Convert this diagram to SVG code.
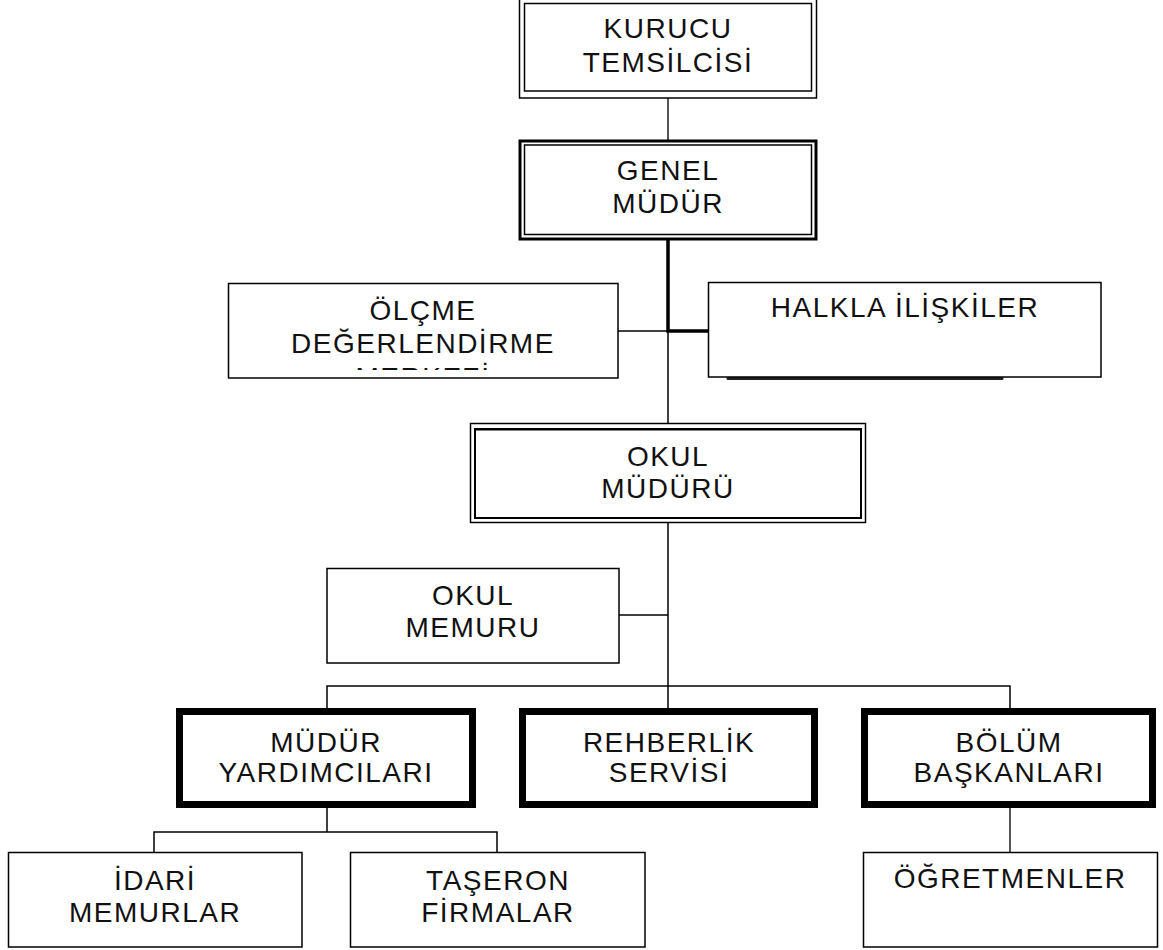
<svg xmlns="http://www.w3.org/2000/svg" width="1163" height="950" viewBox="0 0 1163 950">
<defs>
<style>
.bx{fill:#fff;stroke:#000;stroke-width:1.5}
.thin{fill:none;stroke:#000;stroke-width:1.5}
.thk{fill:#fff;stroke:#000;stroke-width:7}
.c{fill:none;stroke:#000;stroke-width:1.5}
.cg{fill:none;stroke:#555;stroke-width:2}
.ct{fill:none;stroke:#000;stroke-width:3.5}
text{font-family:"Liberation Sans",Arial,sans-serif;font-size:28px;fill:#111;text-anchor:middle;letter-spacing:1.5px}
</style>
<clipPath id="olc"><rect x="228" y="283" width="390" height="87"/></clipPath>
</defs>
<rect width="1163" height="950" fill="#fff"/>
<g id="connectors">
<line class="cg" x1="668" y1="98" x2="668" y2="140"/>
<path class="ct" d="M668,240 V331 H708"/>
<line class="c" x1="618" y1="331" x2="668" y2="331"/>
<line class="c" x1="668" y1="331" x2="668" y2="423"/>
<line class="c" x1="668" y1="523" x2="668" y2="708"/>
<line class="c" x1="619" y1="615" x2="668" y2="615"/>
<path class="c" d="M327,708 V686 H1010 V708"/>
<line class="c" x1="327" y1="808" x2="327" y2="832"/>
<path class="c" d="M154,852 V832 H497 V852"/>
<line class="cg" x1="1010" y1="808" x2="1010" y2="852"/>
</g>
<g id="kurucu">
<rect class="bx" x="519.5" y="-1" width="297" height="99"/>
<rect class="thin" x="524.5" y="3.5" width="287" height="87.5"/>
<text x="668" y="38">KURUCU</text>
<text x="668" y="72">TEMSİLCİSİ</text>
</g>
<g id="genel">
<rect fill="#fff" stroke="#000" stroke-width="3" x="520" y="141" width="296" height="98"/>
<rect class="thin" x="524.5" y="145" width="287" height="89.5"/>
<text x="668" y="180">GENEL</text>
<text x="668" y="213">MÜDÜR</text>
</g>
<g id="olcme">
<rect class="bx" x="228.5" y="283.5" width="389.5" height="94.5"/>
<g clip-path="url(#olc)">
<text x="423" y="320">ÖLÇME</text>
<text x="423" y="353">DEĞERLENDİRME</text>
<text x="423" y="387">MERKEZİ</text>
</g>
</g>
<g id="halkla">
<line stroke="#222" stroke-width="3" stroke-linecap="round" x1="728" y1="378.5" x2="1002" y2="378.5"/>
<rect class="bx" x="708.5" y="282.5" width="392.5" height="94.5"/>
<text x="905" y="317">HALKLA İLİŞKİLER</text>
</g>
<g id="okulmuduru">
<rect class="bx" x="470.5" y="423.5" width="395" height="99"/>
<rect fill="none" stroke="#000" stroke-width="2" x="475" y="429" width="386" height="89"/>
<line stroke="#000" stroke-width="2" x1="475" y1="429.5" x2="861" y2="429.5"/>
<text x="668" y="466">OKUL</text>
<text x="668" y="498">MÜDÜRÜ</text>
</g>
<g id="okulmemuru">
<rect class="bx" x="327" y="568.5" width="292" height="94.5"/>
<text x="473" y="605">OKUL</text>
<text x="473" y="637">MEMURU</text>
</g>
<g id="mudurYard">
<rect class="thk" x="179.5" y="711.5" width="293" height="93"/>
<text x="326" y="752">MÜDÜR</text>
<text x="326" y="782">YARDIMCILARI</text>
</g>
<g id="rehberlik">
<rect class="thk" x="522.5" y="711.5" width="292" height="93"/>
<text x="669" y="752">REHBERLİK</text>
<text x="669" y="782">SERVİSİ</text>
</g>
<g id="bolum">
<rect class="thk" x="864.5" y="711.5" width="288" height="93"/>
<text x="1009" y="752">BÖLÜM</text>
<text x="1009" y="782">BAŞKANLARI</text>
</g>
<g id="idari">
<rect class="bx" x="8.5" y="852.5" width="293.5" height="94.5"/>
<text x="155" y="890">İDARİ</text>
<text x="155" y="922">MEMURLAR</text>
</g>
<g id="taseron">
<rect class="bx" x="350.5" y="852.5" width="294.5" height="94.5"/>
<text x="498" y="890">TAŞERON</text>
<text x="498" y="922">FİRMALAR</text>
</g>
<g id="ogretmenler">
<rect class="bx" x="863.5" y="852.5" width="294" height="94.5"/>
<text x="1010" y="888">ÖĞRETMENLER</text>
</g>
</svg>
